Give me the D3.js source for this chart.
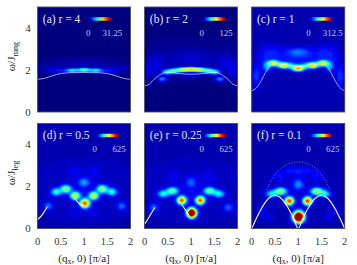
<!DOCTYPE html>
<html>
<head>
<meta charset="utf-8">
<script src="https://cdn.jsdelivr.net/npm/d3@7"></script>
<style>
  html, body { margin: 0; padding: 0; background: #fff; }
  svg { display: block; }
  text { font-family: "Liberation Serif", serif; }
</style>
</head>
<body>
<svg id="viz_area" width="357" height="265"></svg>
<script>
// panel labels and colour bar maxima
var panelLabels = ["(a) r = 4", "(b) r = 2", "(c) r = 1", "(d) r = 0.5", "(e) r = 0.25", "(f) r = 0.1"]
var barMax = ["31.25", "125", "312.5", "625", "625", "625"]
var xTicks = [0, 0.5, 1, 1.5, 2]
var yTicks = [0, 2, 4]

// background level of each map, as a fraction of the colour scale
var floorLevel = [0.012, 0.015, 0.055, 0.06, 0.06, 0.05]

// spectral spots: q, omega, level, q spread, omega spread
var spotsA = [[1,2,.46,.1,.055],[.74,1.98,.36,.1,.06],[1.26,1.98,.36,.1,.06],[.46,1.96,.13,.12,.09],[1.54,1.96,.13,.12,.09],
  [.2,2.05,.05,.14,.15],[1.8,2.05,.05,.14,.15],[1,2.3,.05,.45,.16]]
var spotsB = [[1,2.03,.58,.08,.06],[.82,2.01,.56,.08,.06],[1.18,2.01,.56,.08,.06],[.64,1.96,.4,.08,.075],[1.36,1.96,.4,.08,.075],[.48,1.9,.33,.08,.085],[1.52,1.9,.33,.08,.085],
  [.38,1.57,.25,.07,.08],[1.62,1.57,.25,.07,.08],[.08,1.95,.08,.07,.3],[1.92,1.95,.08,.07,.3],[1,1.72,.08,.15,.08],[1,2.5,.07,.45,.35],[.25,2.3,.07,.12,.35],[1.75,2.3,.07,.12,.35]]
var spotsC = [[.47,2.32,.55,.08,.085],[.68,2.22,.58,.08,.085],[1,2.08,.64,.09,.085],[1.32,2.22,.58,.08,.085],[1.53,2.32,.55,.08,.085],
  [.85,2.2,.22,.08,.09],[1.15,2.2,.22,.08,.09],[.33,2.15,.22,.06,.16],[1.67,2.15,.22,.06,.16],[1,2.87,.14,.16,.13],[1,2.6,.1,.5,.3],[.45,2.85,.07,.12,.25],[1.55,2.85,.07,.12,.25],
  [.1,1.7,.13,.07,.35],[1.9,1.7,.13,.07,.35],[.25,2.6,.05,.09,.45],[1.75,2.6,.05,.09,.45]]
var spotsD = [[1.02,1.2,.74,.07,.145],[.81,1.56,.55,.07,.125],[1.21,1.56,.55,.07,.125],[.61,1.88,.46,.08,.125],[1.39,1.88,.46,.08,.125],[.4,1.74,.34,.075,.12],[1.6,1.74,.34,.075,.12],
  [1,2.2,.22,.085,.14],[.23,1.07,.18,.07,.14],[1.81,1.07,.18,.07,.14],[.8,2.75,.06,.1,.18],[1.2,2.75,.06,.1,.18],[1,1.75,.05,.07,.15],[.8,.7,.04,.1,.2],[1.2,.7,.04,.1,.2],[1,1.8,.03,.6,.7]]
var spotsE = [[1.015,.74,1.15,.068,.15],[.8,1.34,.74,.065,.13],[1.2,1.34,.74,.065,.13],[.6,1.79,.42,.085,.115],[1.4,1.79,.42,.085,.115],[.4,1.65,.32,.08,.115],[1.6,1.65,.32,.08,.115],
  [1,2.2,.15,.08,.18],[.2,1,.17,.07,.14],[1.8,1,.17,.07,.14],[.62,2.5,.05,.1,.2],[1.38,2.5,.05,.1,.2],[1,1.6,.05,.07,.18],[1,1.8,.03,.6,.7]]
var spotsF = [[1.01,.55,1.25,.08,.18],[.81,1.31,.78,.065,.13],[1.2,1.31,.78,.065,.13],[.62,1.77,.48,.09,.115],[1.4,1.77,.48,.09,.115],[.42,1.65,.3,.08,.115],[1.58,1.65,.3,.08,.115],
  [1,2.1,.2,.08,.18],[1,2.72,.1,.08,.15],[.8,2.75,.09,.08,.14],[1.2,2.75,.09,.08,.14],[.6,2.5,.08,.09,.18],[1.4,2.5,.08,.09,.18],[.2,.9,.09,.07,.14],[1.8,.9,.09,.07,.14],[.35,.55,.06,.08,.18],[1.65,.55,.06,.08,.18],[1,1.8,.03,.6,.7]]
var allSpots = [spotsA, spotsB, spotsC, spotsD, spotsE, spotsF]

// white dispersion curves, [q, omega]
var curveA = [[[0,1.56],[.1,1.58],[.2,1.64],[.3,1.71],[.4,1.78],[.5,1.83],[.7,1.87],[1,1.88],[1.3,1.87],[1.5,1.83],[1.6,1.78],[1.7,1.71],[1.8,1.64],[1.9,1.58],[2,1.56]]]
var curveB = [[[0,1.25],[.1,1.32],[.2,1.55],[.3,1.72],[.4,1.85],[.5,1.89],[.7,1.84],[1,1.8],[1.3,1.84],[1.5,1.89],[1.6,1.85],[1.7,1.72],[1.8,1.55],[1.9,1.32],[2,1.25]]]
var curveC = [[[0,1.01],[.1,1.15],[.2,1.47],[.3,1.9],[.35,2.08],[.4,2.2],[.5,2.3],[.7,2.25],[1,2.15],[1.3,2.25],[1.5,2.3],[1.6,2.2],[1.65,2.08],[1.7,1.9],[1.8,1.47],[1.9,1.15],[2,1.01]]]
var curveD = [[[0,.42],[.1,.65],[.21,1.04]], [[.8,1.44],[.88,1.22],[.98,1.04]]]
var curveE = [[[0,.2],[.1,.55],[.22,1]], [[.81,1.12],[.88,.88],[.96,.6]]]
var curveF = [[[0,0],[.1,.48],[.2,.92],[.3,1.27],[.4,1.5],[.5,1.57],[.6,1.5],[.7,1.27],[.8,.92],[.9,.48],[1,0],[1.1,.48],[1.2,.92],[1.3,1.27],[1.4,1.5],[1.5,1.57],[1.6,1.5],[1.7,1.27],[1.8,.92],[1.9,.48],[2,0]]]
var allCurves = [curveA, curveB, curveC, curveD, curveE, curveF]
var dottedF = [[.32,1.83],[.4,2.2],[.5,2.55],[.6,2.8],[.7,2.98],[.85,3.12],[1,3.16],[1.15,3.12],[1.3,2.98],[1.4,2.8],[1.5,2.55],[1.6,2.2],[1.68,1.83]]

// jet stops
var jetStops = [0, 0.125, 0.375, 0.625, 0.875, 1]
var jetColors = ["#00007f", "#0000ff", "#00ffff", "#ffff00", "#ff0000", "#7f0000"]

var svg = d3.select("#viz_area")
var color = d3.scaleLinear().domain(jetStops).range(jetColors).clamp(true)

var panelW = 93, panelH = 105
var colX = [37.5, 144.5, 251.7], rowY = [7, 123.5]
var barLeft = [49.8, 56.5, 56, 56.5, 56.5, 56]
var thresholds = d3.range(1, 64).map(function (d) { return d / 64 })

var axisColor = "#555"

allSpots.forEach(function (spots, i) {
  var col = i % 3, row = Math.floor(i / 3)
  var g = svg.append("g").attr("transform", "translate(" + colX[col] + "," + rowY[row] + ")")
  var x = d3.scaleLinear().domain([0, 2]).range([0, panelW])
  var y = d3.scaleLinear().domain([0, 5]).range([panelH, 0])

  // sample the spots on a pixel grid
  var values = new Array(panelW * panelH)
  for (var py = 0; py < panelH; py++) {
    for (var px = 0; px < panelW; px++) {
      var q = x.invert(px + 0.5), w = y.invert(py + 0.5), v = floorLevel[i]
      spots.forEach(function (s) {
        var dq = (q - s[0]) / s[3], dw = (w - s[1]) / s[4]
        v += s[2] * Math.exp(-0.5 * (dq * dq + dw * dw))
      })
      values[py * panelW + px] = v
    }
  }

  g.append("rect").attr("width", panelW).attr("height", panelH).attr("fill", color(0))
  var clipId = "clip" + i
  g.append("clipPath").attr("id", clipId).append("rect").attr("width", panelW).attr("height", panelH)
  var body = g.append("g").attr("clip-path", "url(#" + clipId + ")")

  var contours = d3.contours().size([panelW, panelH]).thresholds(thresholds)(values)
  body.append("g").selectAll("path").data(contours).join("path")
    .attr("d", d3.geoPath())
    .attr("fill", function (d) { return color(d.value) })
    .attr("stroke", function (d) { return color(d.value) })
    .attr("stroke-width", 0.3)

  var line = d3.line().x(function (d) { return x(d[0]) }).y(function (d) { return y(d[1]) }).curve(d3.curveMonotoneX)
  body.selectAll("path.curve").data(allCurves[i]).join("path").attr("class", "curve")
    .attr("d", line).attr("fill", "none").attr("stroke", "#fff").attr("stroke-width", i > 2 ? 1.1 : 0.7)
    .attr("stroke-opacity", i > 2 ? 1 : 0.9)
  if (i == 5) {
    body.append("path").attr("d", line(dottedF)).attr("fill", "none").attr("stroke", "#fff")
      .attr("stroke-width", 0.6).attr("stroke-dasharray", "1.2 1.5").attr("opacity", 0.7)
  }

  // frame
  g.append("rect").attr("width", panelW).attr("height", panelH).attr("fill", "none").attr("stroke", axisColor).attr("stroke-width", 0.9)

  // title inside the map
  g.append("text").attr("x", 5.3).attr("y", 15.5).attr("font-size", 11.5).attr("fill", "#e4e8ff").text(panelLabels[i])

  // colour bar
  var bx = barLeft[i]
  var barScale = d3.scaleLinear().domain([0, 1]).range([bx, bx + 24])
  g.append("g").selectAll("rect").data(d3.range(0, 1, 1 / 24)).join("rect")
    .attr("x", function (d) { return barScale(d) }).attr("y", 10.3)
    .attr("width", barScale(1 / 24) - barScale(0) + 0.3).attr("height", 3.4)
    .attr("fill", function (d) { return color(d) })
  g.append("text").attr("x", bx + 0.8).attr("y", 28.5).attr("text-anchor", "middle").attr("font-size", 8.8).attr("fill", "#c4ccf0").text("0")
  g.append("text").attr("x", bx + 25).attr("y", 28.5).attr("text-anchor", "middle").attr("font-size", 8.8).attr("fill", "#c4ccf0").text(barMax[i])

  // y ticks on the left column only
  if (col == 0) {
    g.selectAll("text.ytick").data(yTicks).join("text").attr("class", "ytick")
      .attr("x", -9.5).attr("y", function (d) { return y(d) + 3.6 }).attr("text-anchor", "middle")
      .attr("font-size", 11).attr("fill", "#333").text(function (d) { return d })
    var yl = g.append("text").attr("transform", "translate(-22.5," + (panelH / 2 - 3) + ") rotate(-90)")
      .attr("text-anchor", "middle").attr("font-size", 11).attr("fill", "#222")
    yl.append("tspan").text("ω/J")
    yl.append("tspan").attr("dy", 2.5).attr("font-size", 8).text(row == 0 ? "rung" : "leg")
  }

  // x ticks on the bottom row only
  if (row == 1) {
    g.selectAll("text.xtick").data(xTicks).join("text").attr("class", "xtick")
      .attr("x", function (d) { return x(d) }).attr("y", panelH + 16).attr("text-anchor", "middle")
      .attr("font-size", 10.5).attr("fill", "#333").text(function (d) { return d })
    var xl = g.append("text").attr("x", panelW / 2).attr("y", panelH + 33).attr("text-anchor", "middle").attr("font-size", 11).attr("fill", "#222")
    xl.append("tspan").text("(q")
    xl.append("tspan").attr("dy", 2.5).attr("font-size", 8).text("x")
    xl.append("tspan").attr("dy", -2.5).text(", 0) [π/a]")
  }
})
</script>
</body>
</html>
